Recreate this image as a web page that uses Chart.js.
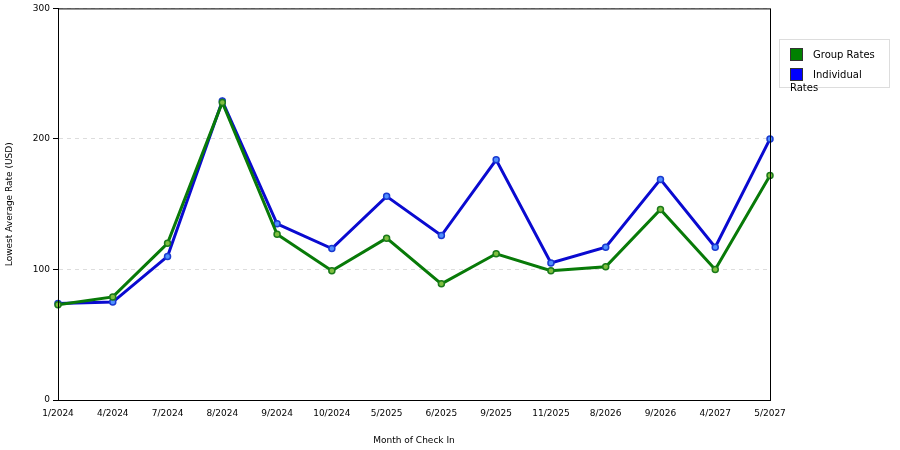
<!DOCTYPE html><html><head><script src="https://cdn.jsdelivr.net/npm/chart.js@4"></script>
<style>body{margin:0;background:#fff}#w{position:relative;width:900px;height:450px}
#lg{position:absolute;left:779px;top:39px;width:109px;height:47px;border:1px solid #ddd;font:10px "DejaVu Sans",sans-serif;color:#000}
#lg div{position:absolute;left:10px;height:13px;line-height:13px}#lg span{display:inline-block;width:11px;height:11px;border:1px solid #333;vertical-align:top;margin-right:10px}</style></head><body>
<div id="w"><canvas id="c" width="900" height="450"></canvas>
<div id="lg"><div style="top:8px"><span style="background:#008000"></span>Group Rates</div><div style="top:28px"><span style="background:#0000ff"></span>Individual Rates</div></div></div>
<script>
const categories=["1/2024","4/2024","7/2024","8/2024","9/2024","10/2024","5/2025","6/2025","9/2025","11/2025","8/2026","9/2026","4/2027","5/2027"];
const groupRates=[73,79,120,228,127,99,124,89,112,99,102,146,100,172];
const individualRates=[74,75,110,229,135,116,156,126,184,105,117,169,117,200];
const yTicks=[0,100,200,300];
const f={family:"DejaVu Sans",size:9};
new Chart(document.getElementById('c'),{type:'line',data:{labels:categories,datasets:[
{label:'Group Rates',data:groupRates,borderColor:'#087a08',backgroundColor:'#7fbf3f',pointBorderColor:'#1a7a1a',borderWidth:3,pointRadius:3,pointBorderWidth:1.5,tension:0},
{label:'Individual Rates',data:individualRates,borderColor:'#0a0ad0',backgroundColor:'#4f8fff',pointBorderColor:'#1a3ad0',borderWidth:3,pointRadius:3,pointBorderWidth:1.5,tension:0}]},
options:{responsive:false,animation:false,layout:{padding:{top:5,right:130,left:0,bottom:0}},
plugins:{legend:{display:false},tooltip:{enabled:false}},
scales:{x:{offset:false,grid:{display:false,drawTicks:true,tickLength:5,color:'#000'},border:{color:'#000'},ticks:{color:'#000',font:f,maxRotation:0,autoSkip:false},title:{display:true,text:'Month of Check In',color:'#000',font:f,padding:{top:4}},afterFit(s){s.height=50}},
y:{min:0,max:300,afterBuildTicks(s){s.ticks=yTicks.map(v=>({value:v}))},grid:{color:'#ddd',tickLength:5,drawTicks:true,tickColor:'#000'},border:{color:'#000',dash:[4,4]},ticks:{color:'#000',font:f},title:{display:true,text:'Lowest Average Rate (USD)',color:'#000',font:f},afterFit(s){s.width=58}}}},
plugins:[{id:'fr',afterDraw(c){const a=c.chartArea,x=c.ctx;x.save();x.strokeStyle='#000';x.lineWidth=1;x.strokeRect(a.left+.5,a.top+.5,a.right-a.left,a.bottom-a.top);x.restore();}}]});
</script></body></html>
